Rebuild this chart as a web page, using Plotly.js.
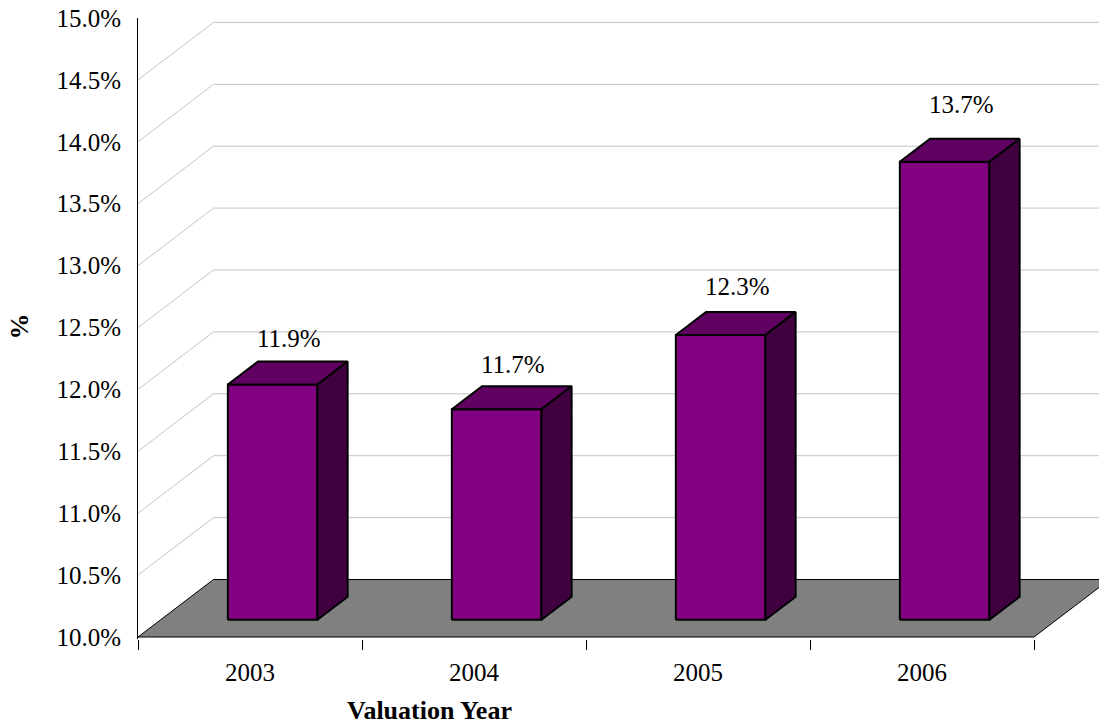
<!DOCTYPE html>
<html>
<head>
<meta charset="utf-8">
<script src="https://cdn.plot.ly/plotly-3.0.1.min.js"></script>
<style>html,body{margin:0;padding:0;background:#fff;}#chart{width:1099px;height:727px;}</style>
</head>
<body>
<div id="chart"></div>
<script>
// ---- data ----
const categories = ['2003', '2004', '2005', '2006'];
const values = [11.9, 11.7, 12.3, 13.7];
const yTickVals = [10.0, 10.5, 11.0, 11.5, 12.0, 12.5, 13.0, 13.5, 14.0, 14.5, 15.0];
const yTickText = ['10.0%', '10.5%', '11.0%', '11.5%', '12.0%', '12.5%', '13.0%', '13.5%', '14.0%', '14.5%', '15.0%'];
const gridVals = [10.5, 11.0, 11.5, 12.0, 12.5, 13.0, 13.5, 14.0, 14.5];
const valueLabels = values.map(v => v.toFixed(1) + '%');
const xTitle = 'Valuation Year';
const yTitle = '%';

// ---- 3-D projection geometry (in axis units) ----
const N = categories.length;
const XMAX = 961 / 224;      // visible x range
const YMIN = 9.984, YMAX = 15;
const DX = 0.337;            // depth offset along x (category units)
const DY = 0.4645;           // depth offset along y (% units)
const BAR_W = 0.4;           // bar width (fraction of slot)
const D0 = 0.3, D1 = 0.7;    // bar front / back depth fraction
const FONT = "'Liberation Serif', 'Times New Roman', serif";

const traces = [];

// back/side wall gridlines
const gx = [], gy = [];
gridVals.forEach(v => { gx.push(0, DX, XMAX + 1, null); gy.push(v, v + DY, v + DY, null); });
traces.push({x: gx, y: gy, mode: 'lines', line: {color: '#c4c4c4', width: 1}, hoverinfo: 'skip', showlegend: false});

// floor
const base = yTickVals[0];
traces.push({x: [0, DX, N + DX, N, 0], y: [base, base + DY, base + DY, base, base],
  mode: 'lines', fill: 'toself', fillcolor: '#808080', line: {color: '#000', width: 1},
  hoverinfo: 'skip', showlegend: false});

// bars
const fx = [], fy = [], tx = [], ty = [], sx = [], sy = [];
values.forEach((v, i) => {
  const xl = i + 0.5 - BAR_W / 2 + D0 * DX, xr = xl + BAR_W;
  const yb = base + D0 * DY, yt = v + D0 * DY;
  const ox = (D1 - D0) * DX, oy = (D1 - D0) * DY;
  fx.push(xl, xr, xr, xl, xl, null); fy.push(yb, yb, yt, yt, yb, null);
  tx.push(xl, xr, xr + ox, xl + ox, xl, null); ty.push(yt, yt, yt + oy, yt + oy, yt, null);
  sx.push(xr, xr + ox, xr + ox, xr, xr, null); sy.push(yb, yb + oy, yt + oy, yt, yb, null);
});
[[fx, fy, '#800080'], [tx, ty, '#600060'], [sx, sy, '#400040']].forEach(([x, y, c]) => {
  traces.push({x: x, y: y, mode: 'lines', fill: 'toself', fillcolor: c,
    line: {color: '#000', width: 2}, hoverinfo: 'skip', showlegend: false});
});

// value labels
const annotations = values.map((v, i) => ({
  x: i + 0.676, y: base + 1.05 * (v - base) + 0.4176, xref: 'x', yref: 'y',
  text: valueLabels[i], showarrow: false, xanchor: 'center', yanchor: 'middle',
  font: {family: FONT, size: 25, color: '#000'}
}));
annotations.push({x: (19 - 138) / 961, y: (639 - 326.5) / 621, xref: 'paper', yref: 'paper',
  text: '<b>' + yTitle + '</b>', textangle: -90, showarrow: false, xanchor: 'center', yanchor: 'middle',
  font: {family: FONT, size: 26, color: '#000'}});
annotations.push({x: (429 - 138) / 961, y: (639 - 726) / 621, xref: 'paper', yref: 'paper',
  text: '<b>' + xTitle + '</b>', showarrow: false, xanchor: 'center', yanchor: 'bottom', borderpad: 0,
  font: {family: FONT, size: 26, color: '#000'}});

const catTicks = categories.map((c, i) => i + 0.5);
const edgeTicks = [0, 1, 2, 3, 4];

const layout = {
  width: 1099, height: 727,
  margin: {l: 138, r: 0, t: 18, b: 88},
  paper_bgcolor: '#fff', plot_bgcolor: '#fff',
  font: {family: FONT, size: 25, color: '#000'},
  showlegend: false,
  xaxis: {range: [0, XMAX], tickmode: 'array', tickvals: catTicks, ticktext: categories,
    ticks: 'outside', ticklen: 11, tickcolor: 'rgba(0,0,0,0)', showline: false,
    showgrid: false, zeroline: false, tickfont: {family: FONT, size: 25, color: '#000'}, fixedrange: true,
    minor: {tickmode: 'array', tickvals: edgeTicks, ticks: 'outside', ticklen: 10, tickcolor: '#000', tickwidth: 1, showgrid: false}},
  yaxis: {range: [YMIN, YMAX], tickmode: 'array', tickvals: yTickVals, ticktext: yTickText,
    ticks: 'outside', ticklen: 11, tickcolor: 'rgba(0,0,0,0)', showline: true, linecolor: '#000', linewidth: 1,
    showgrid: false, zeroline: false, tickfont: {family: FONT, size: 25, color: '#000'}, fixedrange: true},
  yaxis2: {overlaying: 'y', anchor: 'x', side: 'left', range: [YMIN, YMAX], tickmode: 'array',
    tickvals: gridVals.concat([base]), ticks: 'outside', ticklen: 11, tickcolor: '#000',
    showticklabels: false, showline: false, showgrid: false, zeroline: false},
  annotations: annotations
};

Plotly.newPlot('chart', traces, layout, {displayModeBar: false, staticPlot: true});
</script>
</body>
</html>
